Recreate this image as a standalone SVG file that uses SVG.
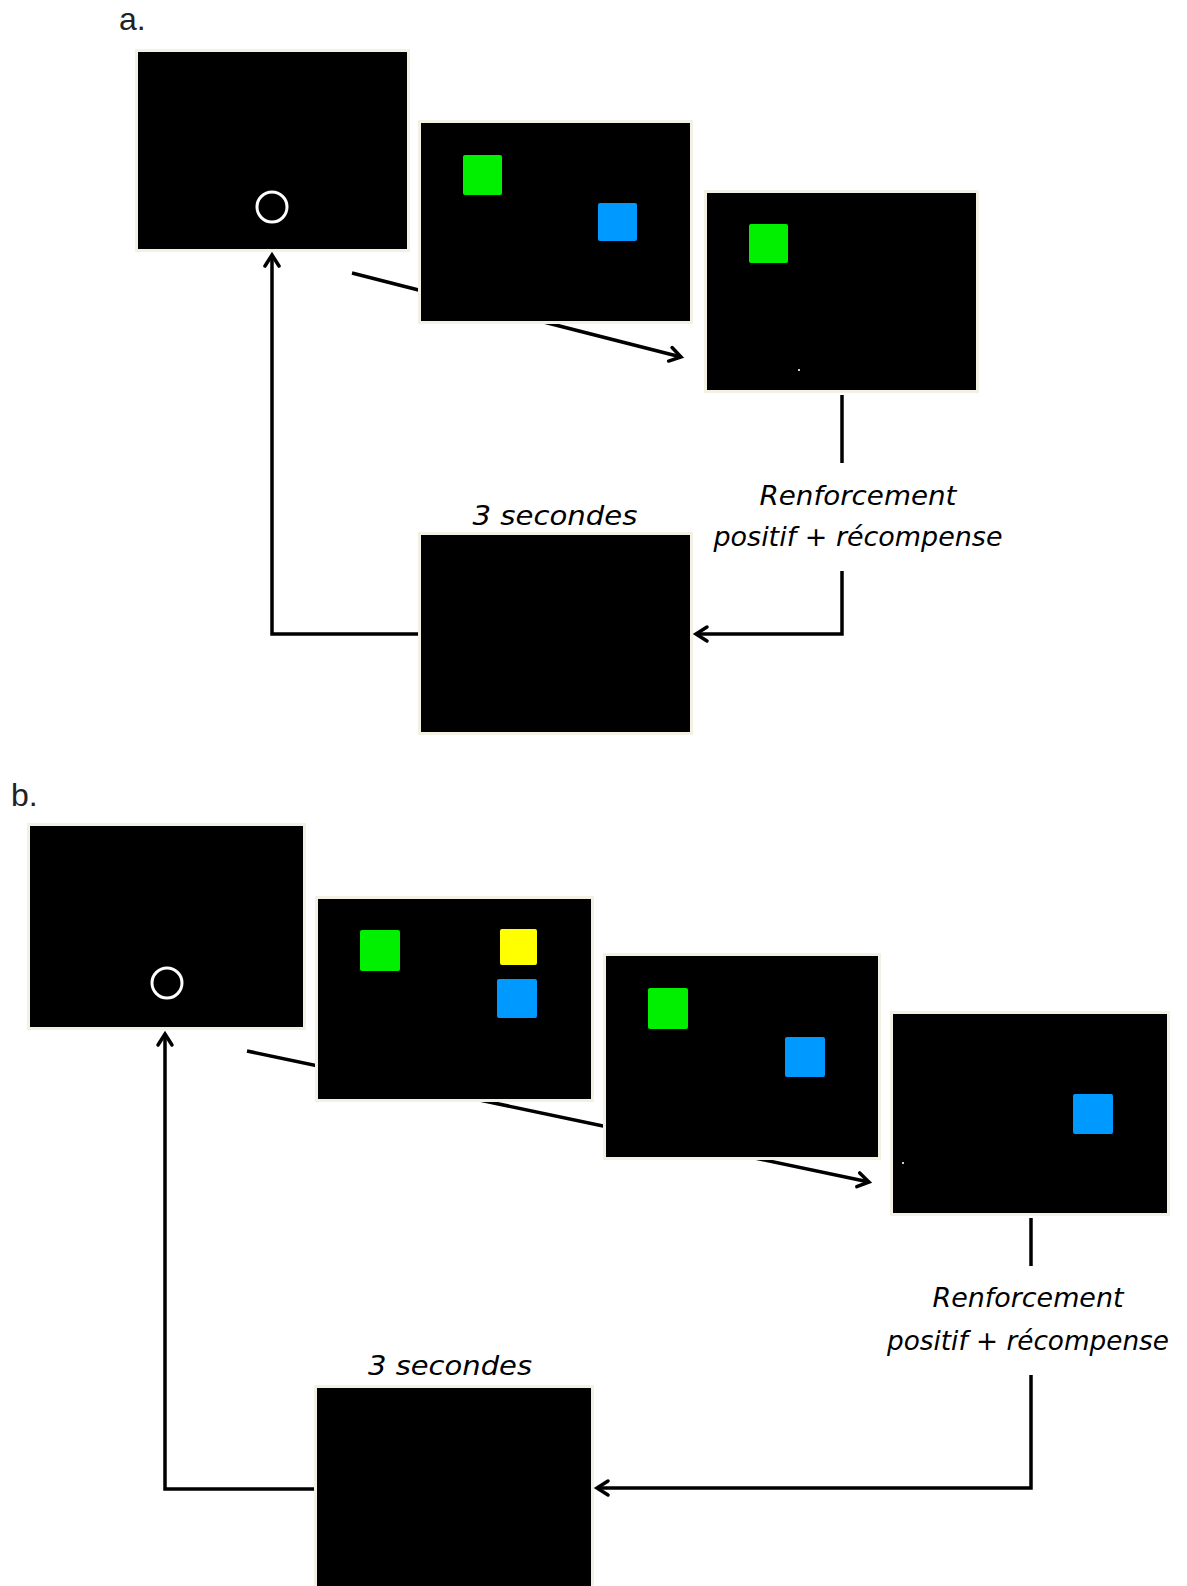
<svg xmlns="http://www.w3.org/2000/svg" width="1187" height="1586" viewBox="0 0 1187 1586">
<style>
.frame{fill:#f3f0e4}
.screen{fill:#000000}
.green{fill:#00f000}
.blue{fill:#0099ff}
.yellow{fill:#ffff00}
.ring{fill:none;stroke:#ffffff;stroke-width:3}
.conn{fill:none;stroke:#000000;stroke-width:3.5;stroke-linejoin:miter}
.lbl{font-family:"DejaVu Sans","Liberation Sans",sans-serif;font-style:italic;font-size:27px;fill:#000000;text-anchor:middle}
.panel{font-family:"Liberation Sans","DejaVu Sans",sans-serif;font-size:32px;fill:#222222}
</style>
<defs>
<marker id="arr" markerUnits="userSpaceOnUse" markerWidth="30" markerHeight="30" viewBox="-15 -15 30 30" refX="0" refY="0" orient="auto">
<path d="M-11,-7 L0,0 L-11,7" fill="none" stroke="#000000" stroke-width="3.5" stroke-linecap="round" stroke-linejoin="miter"/>
</marker>
</defs>
<rect x="0" y="0" width="1187" height="1586" fill="#ffffff"/>

<g id="connectors">
<line class="conn" x1="352" y1="273" x2="681" y2="357" marker-end="url(#arr)"/>
<line class="conn" x1="842" y1="395" x2="842" y2="463"/>
<polyline class="conn" points="842,571 842,634 696,634" marker-end="url(#arr)"/>
<polyline class="conn" points="421,634 272,634 272,255" marker-end="url(#arr)"/>
<line class="conn" x1="247" y1="1051" x2="869" y2="1182" marker-end="url(#arr)"/>
<line class="conn" x1="1031" y1="1218" x2="1031" y2="1266"/>
<polyline class="conn" points="1031,1375 1031,1488 597,1488" marker-end="url(#arr)"/>
<polyline class="conn" points="317,1489 165,1489 165,1034" marker-end="url(#arr)"/>
</g>

<text id="label-a" class="panel" x="119" y="30">a.</text>
<text id="label-b" class="panel" x="11" y="806">b.</text>

<g id="a1">
<rect class="frame" x="135" y="49" width="275" height="203"/>
<rect class="screen" x="138" y="52" width="269" height="197"/>
<circle class="ring" cx="272" cy="207" r="15"/>
</g>
<g id="a2">
<rect class="frame" x="418" y="120" width="275" height="204"/>
<rect class="screen" x="421" y="123" width="269" height="198"/>
<rect class="green" x="463" y="155" width="39" height="40" rx="2"/>
<rect class="blue" x="598" y="203" width="39" height="38" rx="2"/>
</g>
<g id="a3">
<rect class="frame" x="704" y="190" width="275" height="203"/>
<rect class="screen" x="707" y="193" width="269" height="197"/>
<rect class="green" x="749" y="224" width="39" height="39" rx="2"/>
<rect x="798" y="369" width="2" height="2" fill="#cccccc"/>
</g>
<g id="a-reinforce">
<text class="lbl" x="858" y="505" textLength="197" lengthAdjust="spacingAndGlyphs">Renforcement</text>
<text class="lbl" x="858" y="546" textLength="289" lengthAdjust="spacingAndGlyphs">positif + récompense</text>
</g>
<g id="a4">
<text class="lbl" x="555" y="525" textLength="165" lengthAdjust="spacingAndGlyphs">3 secondes</text>
<rect class="frame" x="418" y="532" width="275" height="203"/>
<rect class="screen" x="421" y="535" width="269" height="197"/>
</g>

<g id="b1">
<rect class="frame" x="27" y="823" width="279" height="207"/>
<rect class="screen" x="30" y="826" width="273" height="201"/>
<circle class="ring" cx="167" cy="983" r="15"/>
</g>
<g id="b2">
<rect class="frame" x="315" y="896" width="279" height="206"/>
<rect class="screen" x="318" y="899" width="273" height="200"/>
<rect class="green" x="360" y="930" width="40" height="41" rx="2"/>
<rect class="yellow" x="500" y="929" width="37" height="36" rx="2"/>
<rect class="blue" x="497" y="979" width="40" height="39" rx="2"/>
</g>
<g id="b3">
<rect class="frame" x="603" y="953" width="278" height="207"/>
<rect class="screen" x="606" y="956" width="272" height="201"/>
<rect class="green" x="648" y="988" width="40" height="41" rx="2"/>
<rect class="blue" x="785" y="1037" width="40" height="40" rx="2"/>
</g>
<g id="b4">
<rect class="frame" x="890" y="1011" width="280" height="205"/>
<rect class="screen" x="893" y="1014" width="274" height="199"/>
<rect class="blue" x="1073" y="1094" width="40" height="40" rx="2"/>
<rect x="902" y="1162" width="2" height="2" fill="#cccccc"/>
</g>
<g id="b-reinforce">
<text class="lbl" x="1028" y="1307" textLength="191" lengthAdjust="spacingAndGlyphs">Renforcement</text>
<text class="lbl" x="1028" y="1350" textLength="282" lengthAdjust="spacingAndGlyphs">positif + récompense</text>
</g>
<g id="b5">
<text class="lbl" x="450" y="1375" textLength="164" lengthAdjust="spacingAndGlyphs">3 secondes</text>
<rect class="frame" x="314" y="1385" width="280" height="220"/>
<rect class="screen" x="317" y="1388" width="274" height="220"/>
</g>
</svg>
